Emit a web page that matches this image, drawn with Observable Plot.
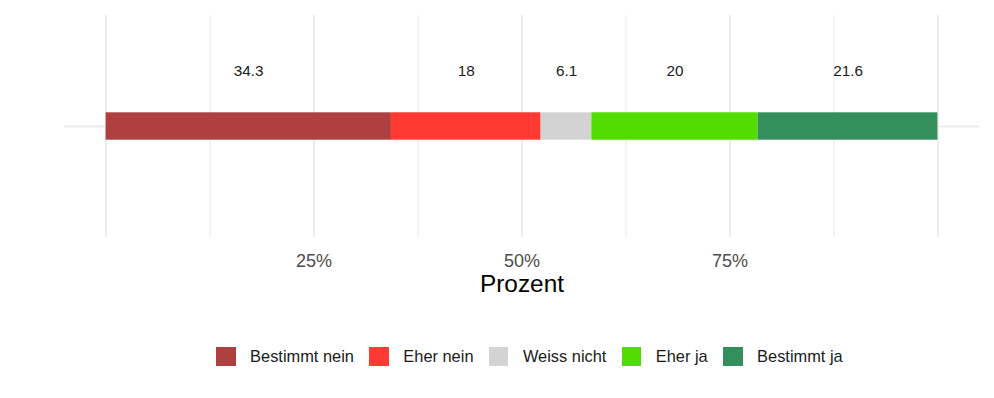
<!DOCTYPE html>
<html>
<head>
<meta charset="utf-8">
<script src="https://cdn.jsdelivr.net/npm/d3@7"></script>
<script src="https://cdn.jsdelivr.net/npm/@observablehq/plot@0.6"></script>
<style>
  html, body { margin: 0; padding: 0; background: #fff; }
  body { width: 994px; height: 398px; position: relative; overflow: hidden;
         font-family: "Liberation Sans", Arial, Helvetica, sans-serif; }
  #legend { position: absolute; left: 216px; top: 347px; display: flex; align-items: center;
            font-size: 16.4px; color: #1a1a1a; white-space: nowrap; }
  .item { display: flex; align-items: center; margin-right: 15.3px; }
  .sw { width: 19.5px; height: 19px; margin-right: 14.6px; }
</style>
</head>
<body>
<div id="chart"></div>
<div id="legend"></div>
<script>
const categories = ["Bestimmt nein", "Eher nein", "Weiss nicht", "Eher ja", "Bestimmt ja"];
const values = [34.3, 18, 6.1, 20, 21.6];
const colors = ["#ae4040", "#ff3a33", "#d3d3d3", "#52dc00", "#33905d"];
const majorBreaks = [0, 25, 50, 75, 100];
const minorBreaks = [12.5, 37.5, 62.5, 87.5];
const tickLabels = [25, 50, 75];
const axisTitle = "Prozent";

let acc = 0;
const data = categories.map((c, i) => {
  const start = acc;
  acc += values[i];
  return { cat: c, value: values[i], start, end: acc, mid: (start + acc) / 2 };
});

const chart = Plot.plot({
  width: 994,
  height: 310,
  marginLeft: 64,
  marginRight: 15,
  marginTop: 15,
  marginBottom: 73,
  style: { fontFamily: '"Liberation Sans", Arial, Helvetica, sans-serif', background: "#fff" },
  x: { domain: [-5, 105] },
  y: { domain: [-1, 1], axis: null },
  color: { domain: categories, range: colors },
  marks: [
    Plot.ruleX(minorBreaks, { stroke: "#ebebeb", strokeWidth: 1.1 }),
    Plot.ruleX(majorBreaks, { stroke: "#ebebeb", strokeWidth: 2 }),
    Plot.ruleY([0], { stroke: "#ebebeb", strokeWidth: 2.2 }),
    Plot.rect(data, { x1: "start", x2: "end", y1: -0.1234, y2: 0.1234, fill: "cat" }),
    Plot.text(data, { x: "mid", y: 0.5, text: d => String(d.value), fontSize: 15.3, fill: "#1a1a1a" }),
    Plot.axisX(tickLabels, { tickSize: 0, tickPadding: 16.5, tickFormat: d => d + "%", fontSize: 18, fill: "#4d4d4d", label: null }),
    Plot.text([axisTitle], { frameAnchor: "bottom", dy: 47, fontSize: 24.4, fill: "#000", lineAnchor: "middle" })
  ]
});
document.getElementById("chart").appendChild(chart);

const legend = document.getElementById("legend");
categories.forEach((c, i) => {
  const item = document.createElement("div");
  item.className = "item";
  const sw = document.createElement("div");
  sw.className = "sw";
  sw.style.background = colors[i];
  const lab = document.createElement("span");
  lab.textContent = c;
  item.appendChild(sw);
  item.appendChild(lab);
  legend.appendChild(item);
});
</script>
</body>
</html>
